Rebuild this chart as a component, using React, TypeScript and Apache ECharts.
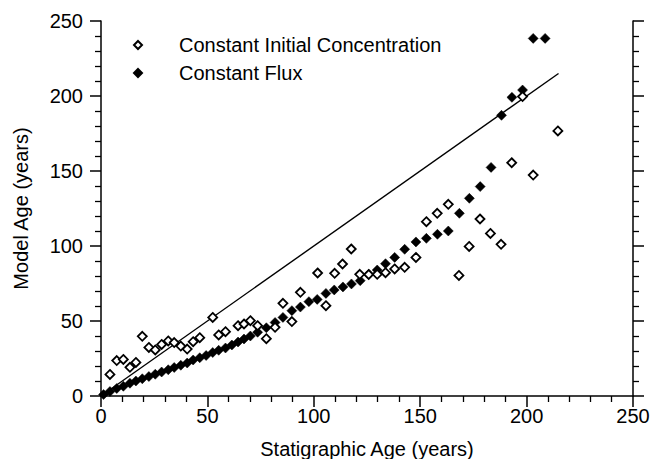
import React, { useEffect, useRef } from "react";
import * as echarts from "echarts";

const FONT = "'Liberation Sans', Arial, Helvetica, sans-serif";

// Constant Initial Concentration (open diamonds)
const cicX = [4.2, 7.4, 10.5, 13.6, 16.4, 19.4, 22.5, 25.5, 28.5, 31.6, 34.4, 37.5, 40.5, 43.3, 46.4, 52.5, 55.3, 58.5, 64.4, 67.2, 70.2, 73.6, 77.7, 81.8, 85.5, 89.7, 93.7, 101.8, 105.7, 109.8, 113.5, 117.6, 121.6, 125.8, 129.8, 133.7, 138, 142.7, 148, 152.9, 158, 163.2, 168.2, 173, 178.1, 183, 188, 193, 198.1, 203.1, 214.7];
const cicY = [14.4, 23.6, 24.4, 19.1, 22.4, 39.8, 32.4, 30.7, 34.4, 36.7, 35.6, 33.3, 31.3, 36.2, 38.9, 52.4, 40.7, 42.9, 46.9, 48, 50.2, 46.9, 38.2, 45.8, 61.8, 49.6, 69.1, 82, 60.2, 81.8, 88, 98, 81.1, 81, 81.1, 82.2, 84.7, 85.8, 92.4, 116.2, 121.8, 127.8, 80.4, 99.7, 118, 108.4, 101.1, 155.5, 199.6, 147.3, 176.7];

// Constant Flux (filled diamonds)
const cfX = [1.2, 4.2, 7.4, 10.5, 13.6, 16.4, 19.4, 22.5, 25.5, 28.5, 31.6, 34.4, 37.5, 40.5, 43.3, 46.4, 49.4, 52.5, 55.3, 58.5, 61.5, 64.4, 67.2, 70.2, 73.6, 77.7, 81.8, 85.5, 89.7, 93.7, 97.7, 101.6, 105.7, 109.6, 113.7, 117.7, 121.8, 125.8, 129.8, 133.7, 138, 142.7, 148, 152.9, 158.1, 163.2, 168.4, 173.1, 178.2, 183.3, 188.2, 193.1, 198.1, 203.1, 208.7];
const cfY = [1, 3, 5, 6.5, 8.5, 10, 11.5, 13, 14.5, 16, 17.5, 19, 20.5, 22, 24, 25.5, 27, 29, 30.5, 32, 34, 36, 38, 40, 42.5, 45.5, 49, 52.4, 56.9, 59.3, 62.9, 64.4, 68.4, 70.7, 72.7, 74.7, 76.9, 81.1, 84, 88.2, 92.4, 97.8, 102.7, 105.1, 107.8, 110, 121.8, 131.8, 139.6, 152.4, 187.1, 199.1, 204, 238.4, 238.4];

// 1:1 reference line
const refX = [0, 215];
const refY = [0, 215];

const xTitle = "Statigraphic Age (years)";
const yTitle = "Model Age (years)";
const seriesNames = ["Constant Initial Concentration", "Constant Flux"];

const zip = (a: number[], b: number[]) => a.map((v, i) => [v, b[i]]);

export default function App() {
  const ref = useRef<HTMLDivElement>(null);
  useEffect(() => {
    if (!ref.current) return;
    const chart = echarts.init(ref.current, null, { renderer: "svg" });
    const axisCommon = {
      type: "value" as const,
      min: 0,
      max: 250,
      interval: 50,
      splitLine: { show: false },
      axisLine: { show: true, onZero: false, lineStyle: { color: "#000", width: 1.5 } },
      axisTick: { show: true, inside: false, length: 11, lineStyle: { color: "#000", width: 1.5 } },
      minorTick: { show: true, splitNumber: 5, length: 6, lineStyle: { color: "#000", width: 1.3 } },
    };
    chart.setOption({
      animation: false,
      backgroundColor: "#fff",
      grid: { left: 101, right: 28, top: 21, bottom: 63, containLabel: false, outerBoundsMode: "none" },
      legend: {
        orient: "vertical",
        left: 133,
        top: 35,
        padding: 0,
        itemWidth: 8,
        itemHeight: 8,
        itemGap: 8,
        data: seriesNames,
        formatter: (n: string) => "{s|}" + n,
        textStyle: {
          fontSize: 20,
          fontFamily: FONT,
          color: "#000",
          rich: { s: { width: 32 } },
        },
      },
      xAxis: {
        ...axisCommon,
        position: "bottom",
        name: xTitle,
        nameLocation: "middle",
        nameGap: 43,
        nameTextStyle: { fontSize: 20, fontFamily: FONT, color: "#000" },
        axisLabel: { fontSize: 20, fontFamily: FONT, color: "#000", margin: 10 },
      },
      yAxis: [
        {
          ...axisCommon,
          position: "left",
          name: yTitle,
          nameLocation: "middle",
          nameGap: 70,
          nameTextStyle: { fontSize: 20, fontFamily: FONT, color: "#000" },
          axisLabel: { fontSize: 20, fontFamily: FONT, color: "#000", margin: 18 },
        },
        {
          ...axisCommon,
          position: "right",
          axisLabel: { show: false },
        },
      ],
      series: [
        {
          name: "1:1",
          type: "line",
          data: zip(refX, refY),
          showSymbol: false,
          symbol: "none",
          lineStyle: { color: "#000", width: 1.4 },
          z: 1,
        },
        {
          name: seriesNames[1],
          type: "scatter",
          data: zip(cfX, cfY),
          symbol: "diamond",
          symbolSize: 10,
          itemStyle: { color: "#000", borderColor: "#000", borderWidth: 0.5, opacity: 1 },
          z: 2,
        },
        {
          name: seriesNames[0],
          type: "scatter",
          data: zip(cicX, cicY),
          symbol: "diamond",
          symbolSize: 9,
          itemStyle: { color: "#fff", borderColor: "#000", borderWidth: 1.8, opacity: 1 },
          z: 3,
        },
      ],
    });
    return () => chart.dispose();
  }, []);
  return <div ref={ref} style={{ width: 661, height: 459, position: "absolute", left: 0, top: 0 }} />;
}
